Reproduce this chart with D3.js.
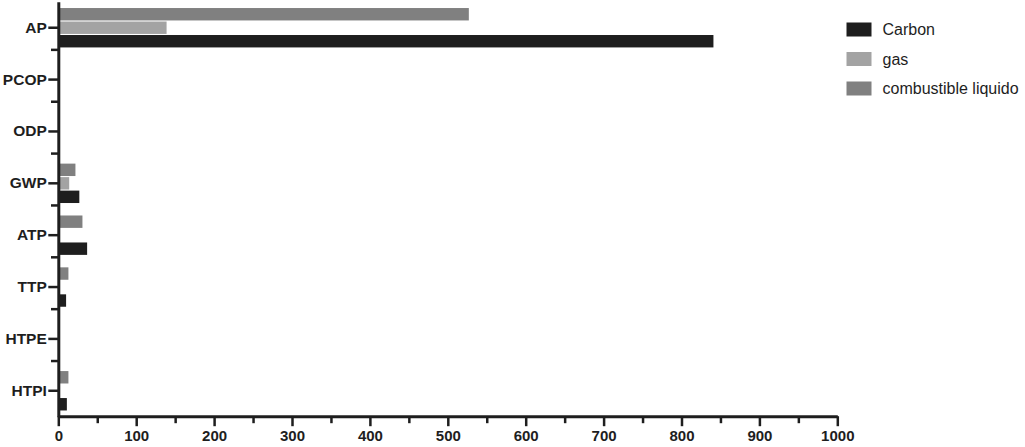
<!DOCTYPE html>
<html>
<head>
<meta charset="utf-8">
<script src="https://cdn.jsdelivr.net/npm/d3@7"></script>
<style>
  html, body { margin: 0; padding: 0; background: #fff; }
  svg { display: block; }
  .tick text { font-family: "Liberation Sans", Arial, sans-serif; font-weight: bold; fill: #1e1e1e; }
</style>
</head>
<body>
<script>
// ---- data ----
const categories = ["AP", "PCOP", "ODP", "GWP", "ATP", "TTP", "HTPE", "HTPI"];
const seriesNames = ["Carbon", "gas", "combustible liquido"];
const carbon = [841, 0, 0, 27, 37, 10, 0, 11];
const gas = [139, 0, 0, 14, 0, 0, 0, 0];
const combustible = [527, 0, 0, 22, 31, 13, 0, 13];
const xMajorTicks = [0, 100, 200, 300, 400, 500, 600, 700, 800, 900, 1000];
const xMinorTicks = [50, 150, 250, 350, 450, 550, 650, 750, 850, 950];
const seriesColors = ["#1e1e1e", "#a3a3a3", "#808080"];

const W = 1025, H = 447;
const ink = "#1e1e1e";
const svg = d3.select("body").append("svg").attr("width", W).attr("height", H);

const x = d3.scaleLinear().domain([0, 1000]).range([58.3, 837.3]);
const y = d3.scaleBand().domain(categories).range([1.8, 416.7]).padding(0);

// order within group, top to bottom
const stackOrder = ["combustible liquido", "gas", "Carbon"];
const ySub = d3.scaleBand().domain(stackOrder).range([-19.7, 19.7]).paddingInner(0.08);

const seriesData = {
  "Carbon": carbon,
  "gas": gas,
  "combustible liquido": combustible
};
const color = d3.scaleOrdinal().domain(seriesNames).range(seriesColors);

// bars
const groups = svg.append("g").selectAll("g").data(categories).join("g")
  .attr("transform", c => `translate(0,${y(c) + y.bandwidth() / 2})`);
groups.selectAll("rect")
  .data((c, i) => stackOrder.map(s => ({ s, v: seriesData[s][i] })).filter(d => d.v > 0))
  .join("rect")
  .attr("x", x(0))
  .attr("y", d => ySub(d.s))
  .attr("width", d => x(d.v) - x(0))
  .attr("height", ySub.bandwidth())
  .attr("fill", d => color(d.s));

// x axis minor ticks
svg.append("g").attr("transform", `translate(0,${416.2})`)
  .call(d3.axisBottom(x).tickValues(xMinorTicks).tickSize(7).tickFormat(""))
  .call(g => g.select(".domain").remove())
  .call(g => g.selectAll(".tick line").attr("stroke", ink).attr("stroke-width", 2.5));

// x axis major
svg.append("g").attr("transform", `translate(0,${416.2})`)
  .call(d3.axisBottom(x).tickValues(xMajorTicks).tickFormat(d3.format("d"))
    .tickSize(10).tickSizeOuter(0).tickPadding(4))
  .call(g => g.select(".domain").attr("stroke", ink).attr("stroke-width", 3))
  .call(g => g.selectAll(".tick line").attr("stroke", ink).attr("stroke-width", 2.5))
  .call(g => g.selectAll(".tick text").attr("font-size", 15));

// y axis minor ticks (between categories)
const boundaries = categories.slice(1).map(c => y(c) - 3.8);
svg.append("g").selectAll("line").data(boundaries).join("line")
  .attr("x1", 51).attr("x2", x(0))
  .attr("y1", d => d).attr("y2", d => d)
  .attr("stroke", ink).attr("stroke-width", 2.5);

// y axis major
svg.append("g").attr("transform", `translate(${x(0)},0)`)
  .call(d3.axisLeft(y).tickSize(10).tickSizeOuter(0).tickPadding(1.5))
  .call(g => g.select(".domain").attr("stroke", ink).attr("stroke-width", 3))
  .call(g => g.selectAll(".tick line").attr("stroke", ink).attr("stroke-width", 2.5))
  .call(g => g.selectAll(".tick text").attr("font-size", 15.5));

// legend
const legend = svg.append("g").attr("transform", "translate(846.5,29.5)");
const li = legend.selectAll("g").data(seriesNames).join("g")
  .attr("transform", (d, i) => `translate(0,${i * 29.5})`);
li.append("rect").attr("x", 0).attr("y", -7).attr("width", 25).attr("height", 14)
  .attr("fill", d => color(d));
li.append("text").attr("x", 36).attr("y", 0).attr("dy", "0.35em")
  .attr("font-family", "Liberation Sans, Arial, sans-serif")
  .attr("font-size", 16).attr("fill", ink)
  .text(d => d);
</script>
</body>
</html>
